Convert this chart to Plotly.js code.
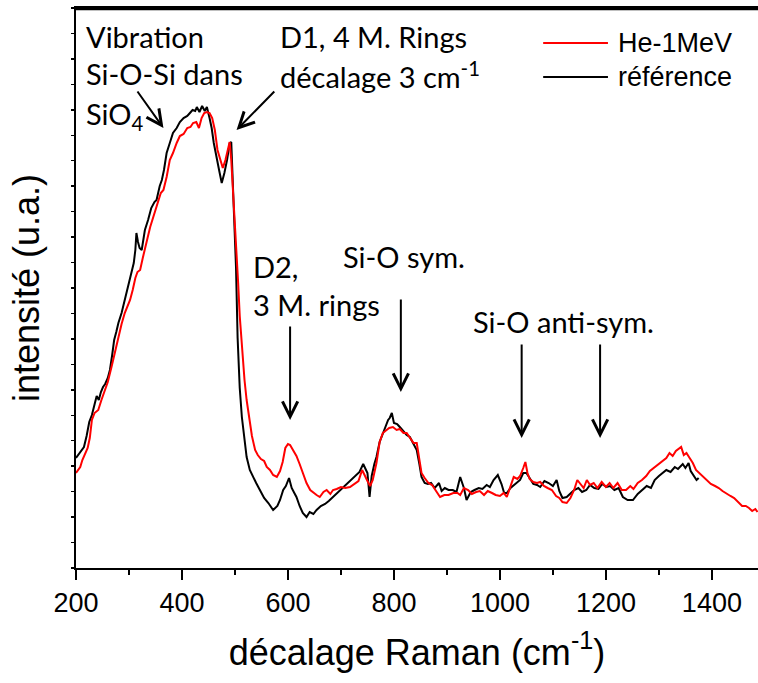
<!DOCTYPE html>
<html>
<head>
<meta charset="utf-8">
<script src="https://cdn.plot.ly/plotly-3.0.1.min.js"></script>
<style>html,body{margin:0;padding:0;background:#fff;}#chart{width:758px;height:683px;}</style>
</head>
<body>
<div id="chart"></div>
<script>
// Raman shift (cm-1) and intensity (a.u.) for the reference sample
const refShift = [200,205,210,215,220,225,230,235,239,243,247,251,255,260,264,268,272,276,280,286,291,296,300,305,309,312,314,317,320,324,330,336,342,348,352,358,362,366,371,377,383,390,396,403,410,415,420,425,428,433,438,443,447,452,456,460,465,470,475,480,485,490,493,496,499,502,505,509,513,518,522,528,534,540,547,555,563,572,580,585,591,596,602,607,612,616,622,628,635,641,648,654,662,670,677,685,695,705,715,725,735,742,746,750,754,758,763,767,773,779,783,789,792,796,800,806,811,818,824,830,837,843,848,852,858,864,870,877,885,890,896,903,911,918,925,932,937,945,952,960,967,975,981,988,996,1003,1008,1013,1020,1030,1038,1044,1050,1056,1063,1070,1076,1084,1092,1100,1107,1112,1118,1126,1133,1140,1148,1155,1163,1170,1178,1186,1193,1201,1208,1216,1224,1232,1241,1251,1260,1268,1277,1285,1292,1300,1308,1314,1322,1330,1336,1340,1345,1350,1356,1360,1366,1371,1375];
const refIntensity = [110,114,118,121,132,146,153,163,172,168,176,181,184,190,198,212,228,236,245,255,266,275,284,295,305,318,335,326,320,318,338,348,360,366,368,382,388,398,415,425,435,440,446,450,452,455,458,457,461,456,462,457,461,450,440,425,410,398,385,395,408,425,426,385,340,300,230,180,151,128,111,98,91,85,78,70,65,58,62,68,78,82,90,80,75,71,62,55,51,56,54,58,62,64,67,71,75,80,85,90,96,104,100,95,71,92,104,111,126,135,141,148,150,155,145,144,141,137,133,131,124,118,104,91,85,84,85,80,85,77,80,78,78,76,91,80,68,76,78,80,79,83,81,88,93,84,75,75,80,85,88,95,95,90,84,83,81,87,85,82,88,77,70,71,75,78,80,76,78,83,80,79,84,81,82,78,80,71,68,68,74,78,82,80,88,92,95,98,96,101,99,101,104,100,105,97,92,88,90];

// Raman shift (cm-1) and intensity (a.u.) for the He 1 MeV irradiated sample
const heShift = [200,204,208,212,217,222,226,230,235,242,248,255,260,267,273,280,286,292,297,302,307,312,316,321,326,330,335,340,345,349,355,360,365,371,377,383,390,396,403,410,416,421,427,432,437,442,447,452,457,462,467,472,477,482,487,490,493,497,500,503,506,509,513,518,522,527,532,538,543,549,555,560,566,572,579,585,590,595,600,604,610,616,622,628,635,642,648,654,660,667,673,680,685,692,700,708,717,725,733,740,745,750,755,760,767,773,779,785,791,798,805,811,818,824,830,837,843,848,852,858,865,872,880,887,895,903,912,920,925,932,940,947,955,962,970,977,985,992,1000,1007,1013,1020,1026,1033,1038,1044,1048,1052,1056,1063,1070,1076,1083,1090,1098,1106,1112,1118,1126,1133,1140,1146,1152,1158,1164,1170,1177,1184,1192,1200,1207,1214,1222,1230,1238,1246,1252,1260,1268,1276,1283,1290,1298,1306,1314,1320,1326,1332,1338,1342,1347,1352,1358,1364,1370,1376,1382,1390,1398,1406,1413,1420,1428,1435,1442,1450,1457,1464,1470,1476,1482,1486];
const heIntensity = [95,98,101,108,115,120,130,148,155,158,168,178,186,201,215,231,244,255,262,268,278,290,296,298,310,318,330,341,350,355,368,375,378,391,408,415,425,432,434,440,441,445,446,440,450,455,456,455,450,438,418,408,400,408,418,426,408,370,352,322,285,252,220,188,168,148,132,118,113,109,107,101,98,93,91,97,106,120,124,123,118,112,104,95,85,78,75,73,71,76,78,74,78,79,81,80,81,84,87,98,92,87,82,88,105,126,135,138,140,141,138,139,135,135,130,125,125,110,95,90,85,83,77,71,73,73,75,75,73,80,78,74,76,77,73,77,75,73,72,75,71,82,91,89,92,100,106,95,89,86,85,86,82,80,78,72,70,66,65,70,78,88,84,80,88,83,85,80,86,81,85,80,85,78,78,82,79,85,88,92,97,100,104,107,110,115,112,117,120,121,113,115,110,105,98,95,92,88,84,82,80,77,74,72,70,66,62,62,60,57,59,56];

const seriesNames = ['He-1MeV', 'référence'];
const seriesColors = ['#ff0000', '#000000'];

const xRange = [200, 1487];
const yRange = [0, 560];

const txtFont = {family: 'Lato, Carlito, Calibri, sans-serif', size: 29, color: '#000'};
const axFont = 'Liberation Sans, Arial, sans-serif';

// reference drawn first (below), He-1MeV on top
const traces = [
  {x: refShift, y: refIntensity, name: seriesNames[1], type: 'scatter', mode: 'lines',
   line: {color: seriesColors[1], width: 2}, showlegend: false},
  {x: heShift, y: heIntensity, name: seriesNames[0], type: 'scatter', mode: 'lines',
   line: {color: seriesColors[0], width: 2}, showlegend: false}
];

function label(text, x, y) {
  return {text: text, xref: 'paper', yref: 'paper', x: x, y: y, xanchor: 'left', yanchor: 'middle',
          showarrow: false, font: txtFont};
}
function arrow(x, y, ax, ay) {
  return {text: '', x: x, y: y, ax: ax, ay: ay, xref: 'x', yref: 'y', axref: 'x', ayref: 'y',
          showarrow: true, arrowhead: 5, arrowsize: 1.5, arrowwidth: 2, arrowcolor: '#000'};
}

const annotations = [
  label('Vibration', 0.011, 0.950),
  label('Si-O-Si dans', 0.011, 0.883),
  label('SiO<sub>4</sub>', 0.011, 0.808),
  label('D1, 4 M. Rings', 0.296, 0.950),
  label('décalage 3 cm<sup>-1</sup>', 0.296, 0.880),
  label('D2,', 0.257, 0.539),
  label('3 M. rings', 0.257, 0.470),
  label('Si-O sym.', 0.389, 0.557),
  label('Si-O anti-sym.', 0.579, 0.440),
  arrow(365, 440, 314, 478),
  arrow(503, 438, 577, 478),
  arrow(604, 148, 604, 243),
  arrow(813, 176, 813, 270),
  arrow(1041, 130, 1041, 225),
  arrow(1189, 130, 1189, 225),
  // legend texts
  {text: seriesNames[0], xref: 'paper', yref: 'paper', x: 0.792, y: 0.9375, xanchor: 'left', yanchor: 'middle',
   showarrow: false, font: {family: axFont, size: 27, color: '#000'}},
  {text: seriesNames[1], xref: 'paper', yref: 'paper', x: 0.792, y: 0.8768, xanchor: 'left', yanchor: 'middle',
   showarrow: false, font: {family: axFont, size: 27, color: '#000'}}
];

const shapes = [
  // top frame line
  {type: 'line', xref: 'paper', yref: 'paper', x0: 0, x1: 1, y0: 0.998, y1: 0.998, layer: 'above',
   line: {color: '#000', width: 2.5}},
  // legend samples
  {type: 'line', xref: 'paper', yref: 'paper', x0: 0.685, x1: 0.780, y0: 0.9375, y1: 0.9375,
   line: {color: seriesColors[0], width: 2}},
  {type: 'line', xref: 'paper', yref: 'paper', x0: 0.685, x1: 0.780, y0: 0.8768, y1: 0.8768,
   line: {color: seriesColors[1], width: 2}}
];

const layout = {
  width: 758, height: 683,
  margin: {l: 76, r: 0, t: 8, b: 115},
  paper_bgcolor: '#fff', plot_bgcolor: '#fff',
  showlegend: false,
  xaxis: {
    range: xRange, tick0: 200, dtick: 200, ticks: 'outside', ticklen: 10, tickwidth: 2, tickcolor: '#000',
    showline: true, mirror: true, linewidth: 2, linecolor: '#000', showgrid: false, zeroline: false,
    tickfont: {family: axFont, size: 27, color: '#000'},
    minor: {dtick: 100, tick0: 200, ticks: 'outside', ticklen: 5, tickwidth: 2, tickcolor: '#000', showgrid: false},
    title: {text: 'décalage Raman (cm<sup>-1</sup>)', font: {family: axFont, size: 36, color: '#000'}, standoff: 22},
    fixedrange: true
  },
  yaxis: {
    range: yRange, tick0: 0, dtick: 560 / 22, ticks: 'outside', ticklen: 3, tickwidth: 1.5, tickcolor: '#000',
    showticklabels: false, showline: true, linewidth: 2, linecolor: '#000', showgrid: false, zeroline: false,
    title: {text: 'intensité (u.a.)', font: {family: axFont, size: 36, color: '#000'}, standoff: 20},
    fixedrange: true
  },
  annotations: annotations,
  shapes: shapes
};

Plotly.newPlot('chart', traces, layout, {displayModeBar: false, staticPlot: true});
</script>
</body>
</html>
